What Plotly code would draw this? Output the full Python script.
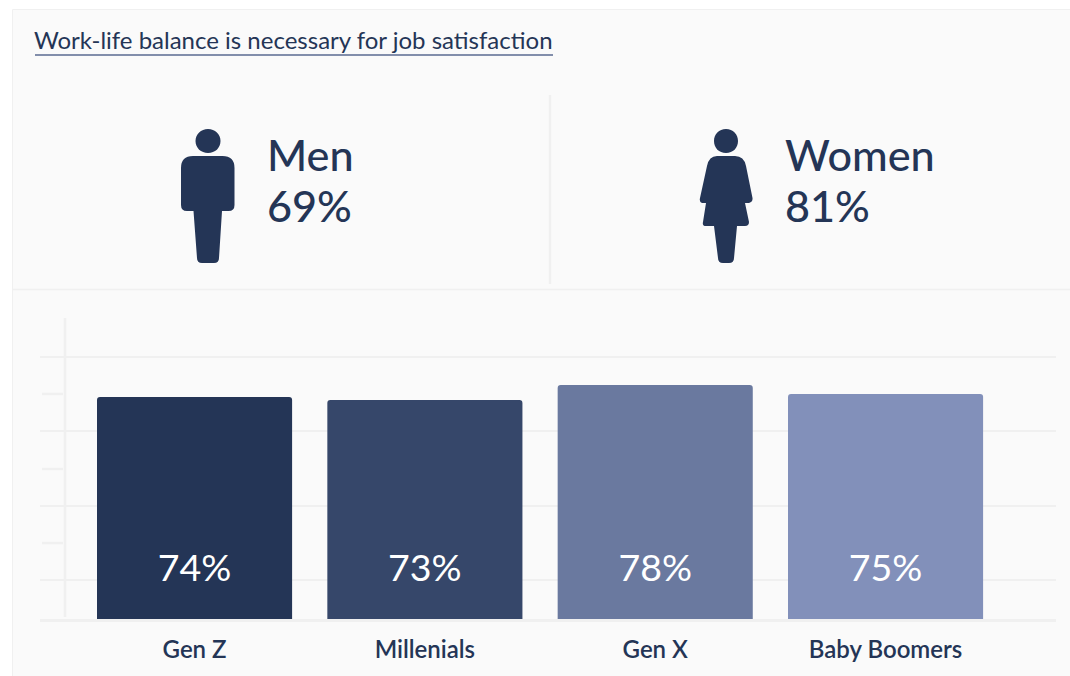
import plotly.graph_objects as go

# --- data ---
categories = ["Gen Z", "Millenials", "Gen X", "Baby Boomers"]
values = [74, 73, 78, 75]
value_labels = ["74%", "73%", "78%", "75%"]
bar_colors = ["#243556", "#36476A", "#6A799F", "#8290BA"]
title_text = "Work-life balance is necessary for job satisfaction"
groups = ["Men", "Women"]
group_values = ["69%", "81%"]
grid_values = [13.0, 37.7, 62.7, 87.3]
short_tick_values = [25.3, 50.0, 75.0]

LABEL_HEIGHT = 15.7
INK = "#243556"
PANEL = "#FAFAFA"
RULE = "#F0F0F0"
FONT = "Lato, sans-serif"

MAN = ("M208 129 C215 129 220.5 134 220.5 141 C220.5 148 215 153 208 153 "
       "C201 153 195.5 148 195.5 141 C195.5 134 201 129 208 129 Z "
       "M193 156 L222.5 156 Q234.5 156 234.5 168 L234.5 205 Q234.5 211 228.5 211 L222 211 "
       "L219 258 Q219 263 214 263 L202 263 Q197 263 197 258 L193.5 211 "
       "L187 211 Q181 211 181 205 L181 168 Q181 156 193 156 Z")
WOMAN = ("M726 129 C733 129 738 134 738 141 C738 148 733 153 726 153 "
         "C719 153 714 148 714 141 C714 134 719 129 726 129 Z "
         "M717 156 L735 156 Q744 156 746 166 L752.5 198 Q753 202 749 203 L745 203 "
         "L749 222 Q749 226 745 226 L737 226 L734 258 Q734 263 729 263 L723 263 "
         "Q718 263 718 258 L714 226 L706 226 Q702 226 703 222 L706 203 L702 203 "
         "Q699 202 700 198 L707 166 Q709 156 717 156 Z")

fig = go.Figure()
# full-canvas pixel axes (x/y) hold the page furniture, underneath the chart axes (x2/y2)
fig.add_trace(go.Scatter(x=[0], y=[0], mode="markers",
                         marker=dict(opacity=0), showlegend=False, hoverinfo="skip"))
xs = list(range(len(categories)))
fig.add_trace(go.Bar(
    x=xs, y=values, width=0.847, xaxis="x2", yaxis="y2",
    marker=dict(color=bar_colors, line=dict(width=0)),
    hoverinfo="skip", showlegend=False,
))
fig.add_trace(go.Scatter(
    x=xs, y=[LABEL_HEIGHT] * len(xs), xaxis="x2", yaxis="y2", mode="text",
    text=value_labels, textposition="middle center",
    textfont=dict(family=FONT, size=37.5, color="white"),
    hoverinfo="skip", showlegend=False,
))

def line(x0, y0, x1, y1, color=RULE, width=1):
    return dict(type="line", xref="x", yref="y", x0=x0, y0=y0, x1=x1, y1=y1,
                line=dict(color=color, width=width), layer="below")

shapes = [
    dict(type="rect", xref="paper", yref="paper", x0=12.5/1070, y0=-0.01, x1=1.01, y1=1-9.5/676,
         fillcolor=PANEL, line=dict(color=RULE, width=1), layer="below"),
    line(12, 289.5, 1070, 289.5, width=1.3),
    line(550, 95, 550, 284, width=2.5),
    line(35, 55, 553, 55, color="#5A6A90", width=1.3),
    dict(type="path", xref="x", yref="y", path=MAN, fillcolor=INK, line=dict(width=0), layer="below"),
    dict(type="path", xref="x", yref="y", path=WOMAN, fillcolor=INK, line=dict(width=0), layer="below"),
    line(65, 318, 65, 617, width=2.5),
]
for v in short_tick_values:
    shapes.append(dict(type="line", xref="x", yref="y2", x0=42, x1=63, y0=v, y1=v,
                       line=dict(color=RULE, width=2.5), layer="below"))

def label(x, y, text, size, weight=400):
    return dict(xref="x", yref="y", x=x, y=y, text=text, showarrow=False,
                xanchor="left", yanchor="middle", align="left",
                font=dict(family=FONT, size=size, color=INK, weight=weight))

annotations = [
    label(32.3, 39, title_text, 24),
    label(265, 154, groups[0], 43.2, 500),
    label(265, 205, group_values[0], 43.2, 500),
    label(783, 154, groups[1], 43.2, 500),
    label(783, 205, group_values[1], 43.2, 500),
]

fig.update_layout(
    width=1070, height=676, margin=dict(l=0, r=0, t=0, b=0),
    paper_bgcolor="white", plot_bgcolor="rgba(0,0,0,0)",
    barcornerradius=3, showlegend=False,
    font=dict(family=FONT, color=INK),
    shapes=shapes, annotations=annotations,
    xaxis2=dict(domain=[40/1070, 1056/1070], range=[-0.671, 3.74],
                tickvals=xs, ticktext=categories,
                tickfont=dict(family=FONT, size=24, color=INK, weight=600),
                ticks="outside", ticklen=7, tickcolor="rgba(0,0,0,0)",
                showgrid=False, zeroline=False, showline=True,
                linecolor=RULE, linewidth=2.5, anchor="y2"),
    yaxis2=dict(domain=[1-619/676, 1-318/676], range=[0, 100.33],
                tickvals=grid_values, showticklabels=False, ticks="",
                showgrid=True, gridcolor=RULE, gridwidth=1.5,
                zeroline=False, showline=False, anchor="x2"),
    xaxis=dict(domain=[0, 1], range=[0, 1070], visible=False, fixedrange=True, anchor="y"),
    yaxis=dict(domain=[0, 1], range=[676, 0], visible=False, fixedrange=True, anchor="x"),
)

fig.write_html("out.html", config=dict(displayModeBar=False),
               post_script="document.body.style.margin='0';document.body.style.overflow='hidden';")
